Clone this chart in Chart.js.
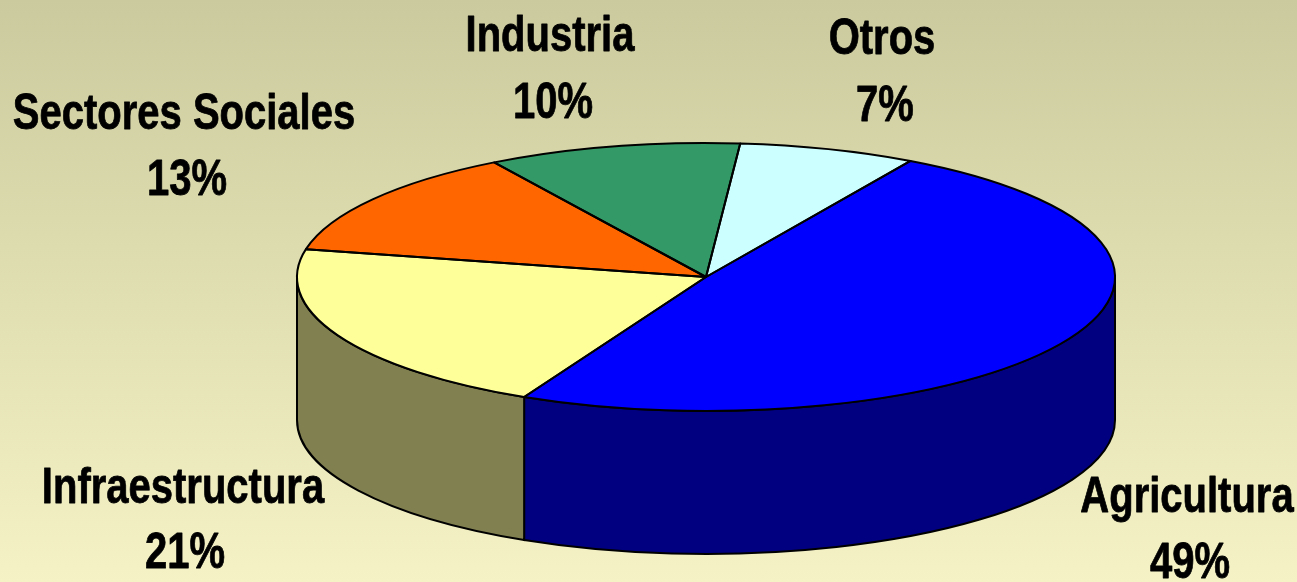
<!DOCTYPE html>
<html>
<head>
<meta charset="utf-8">
<title>Sectores</title>
<script src="https://cdn.jsdelivr.net/npm/chart.js@4"></script>
<style>
  html, body { margin: 0; padding: 0; width: 1297px; height: 582px; overflow: hidden; }
  body { background: linear-gradient(to bottom, #cbca9e 0%, #dcdbae 40%, #f5f3c6 100%); }
  canvas { display: block; }
</style>
</head>
<body>
<canvas id="pieChart" width="1297" height="582"></canvas>
<script>
// DATA
const categories = ["Agricultura", "Infraestructura", "Sectores Sociales", "Industria", "Otros"];
const shares = [49, 21, 13, 10, 7];

// COLORS
const topColors = ["#0000ff", "#ffff99", "#ff6600", "#339966", "#ccffff"];
const wallColors = ["#000080", "#808050", "#803300", "#1a4d33", "#668080"];

// LABEL PLACES (name center x, percent center x, name baseline, percent baseline), same order as categories
const labelPlaces = [
    [1187, 1190, 512, 578],
    [183, 185, 503, 568],
    [184, 187, 129, 195],
    [550, 553, 51, 118],
    [882, 885, 54, 121]
];

// TILTED DISC
const disc = { x: 706, y: 277, rx: 409, ry: 134, depth: 143 };
const outline = "#000000";

function drawWalls(ctx, arcs) {
    arcs.forEach((arc, i) => {
        const { startAngle, endAngle } = arc.getProps(["startAngle", "endAngle"], true);
        // only the front half of the rim can be seen
        [0, Math.PI * 2].forEach(turn => {
            const a = Math.max(startAngle, turn);
            const b = Math.min(endAngle, turn + Math.PI);
            if (b <= a) return;
            ctx.beginPath();
            ctx.ellipse(disc.x, disc.y, disc.rx, disc.ry, 0, a, b);
            ctx.ellipse(disc.x, disc.y + disc.depth, disc.rx, disc.ry, 0, b, a, true);
            ctx.closePath();
            ctx.fillStyle = wallColors[i];
            ctx.fill();
            ctx.lineWidth = 2;
            ctx.strokeStyle = outline;
            ctx.stroke();
        });
    });
}

function drawOutlines(ctx, arcs) {
    arcs.forEach(arc => {
        const { startAngle, endAngle } = arc.getProps(["startAngle", "endAngle"], true);
        ctx.beginPath();
        ctx.moveTo(disc.x, disc.y);
        ctx.ellipse(disc.x, disc.y, disc.rx, disc.ry, 0, startAngle, endAngle);
        ctx.closePath();
        ctx.lineWidth = 2;
        ctx.lineJoin = "round";
        ctx.strokeStyle = outline;
        ctx.stroke();
    });
}

const tiltPlugin = {
    id: "tilt",
    beforeDatasetsDraw(chart) {
        const ctx = chart.ctx;
        const arcs = chart.getDatasetMeta(0).data;
        const { x, y, outerRadius } = arcs[0].getProps(["x", "y", "outerRadius"], true);
        drawWalls(ctx, arcs);
        // squash the library's round pie into the top of the disc
        ctx.save();
        ctx.translate(disc.x, disc.y);
        ctx.scale(disc.rx / outerRadius, disc.ry / outerRadius);
        ctx.translate(-x, -y);
    },
    afterDatasetsDraw(chart) {
        const ctx = chart.ctx;
        ctx.restore();
        drawOutlines(ctx, chart.getDatasetMeta(0).data);

        // LABELS, bold sans pressed narrow
        ctx.font = "bold 50px 'Liberation Sans', sans-serif";
        ctx.fillStyle = "#000000";
        ctx.strokeStyle = "#000000";
        ctx.lineWidth = 0.8;
        ctx.textAlign = "center";
        ctx.textBaseline = "alphabetic";
        categories.forEach((name, i) => {
            const [nameX, percentX, nameY, percentY] = labelPlaces[i];
            ctx.save();
            ctx.translate(nameX, 0);
            ctx.scale(0.8, 1);
            ctx.fillText(name, 0, nameY);
            ctx.strokeText(name, 0, nameY);
            ctx.restore();
            ctx.save();
            ctx.translate(percentX, 0);
            ctx.scale(0.8, 1);
            ctx.fillText(shares[i] + "%", 0, percentY);
            ctx.strokeText(shares[i] + "%", 0, percentY);
            ctx.restore();
        });
    }
};

// PIE CHART
const pieChart = new Chart(document.getElementById("pieChart"), {
    type: "pie",
    data: {
        labels: categories,
        datasets: [{
            data: shares,
            backgroundColor: topColors,
            borderWidth: 0
        }]
    },
    options: {
        responsive: false,
        animation: false,
        rotation: 30,
        plugins: {
            legend: { display: false },
            tooltip: { enabled: false }
        }
    },
    plugins: [tiltPlugin]
});
</script>
</body>
</html>
